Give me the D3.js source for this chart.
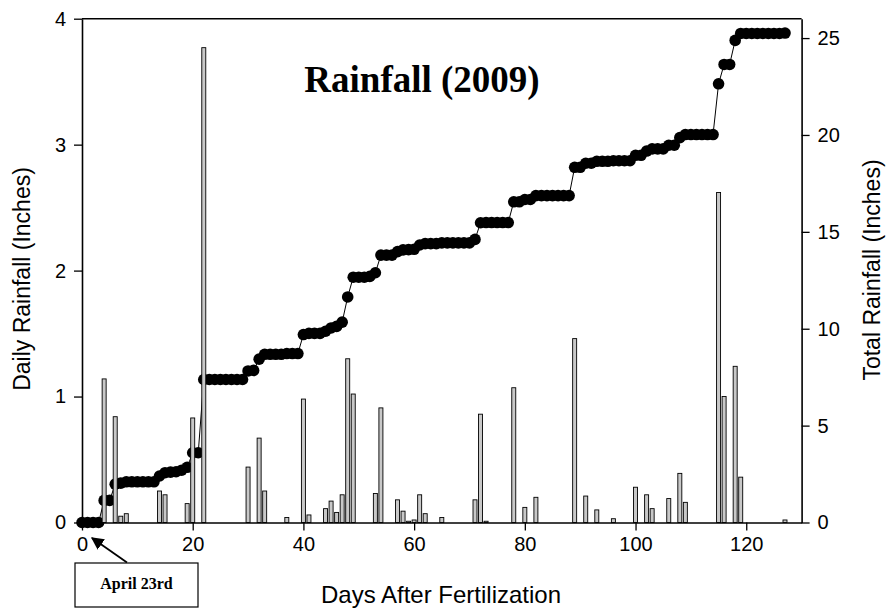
<!DOCTYPE html>
<html><head><meta charset="utf-8">
<script src="https://cdn.jsdelivr.net/npm/d3@7"></script>
<style>body{margin:0;background:#fff}svg{display:block}</style>
</head><body>
<script>
// Daily rainfall bars (day, inches)
const barDays   = [4,6,7,8,14,15,19,20,22,30,32,33,37,40,41,44,45,46,47,48,49,53,54,57,58,59,60,61,62,65,71,72,73,78,80,82,89,91,93,96,100,102,103,106,108,109,115,116,118,119,127];
const barValues = [1.14,0.84,0.05,0.07,0.25,0.22,0.15,0.83,3.77,0.44,0.67,0.25,0.04,0.98,0.06,0.11,0.17,0.08,0.22,1.30,1.02,0.23,0.91,0.18,0.09,0.01,0.02,0.22,0.07,0.04,0.18,0.86,0.01,1.07,0.12,0.20,1.46,0.21,0.10,0.03,0.28,0.22,0.11,0.19,0.39,0.16,2.62,1.00,1.24,0.36,0.02];
// Cumulative rainfall, one value per day 0..127 (inches)
const totalValues = [
 0,0,0,0,1.14,1.14,1.98,2.03,2.10,2.10,
 2.10,2.10,2.10,2.10,2.40,2.57,2.60,2.62,2.70,2.85,
 3.60,3.60,7.38,7.38,7.38,7.38,7.38,7.38,7.38,7.38,
 7.82,7.85,8.43,8.68,8.68,8.68,8.68,8.72,8.72,8.72,
 9.70,9.76,9.76,9.76,9.87,10.04,10.12,10.34,11.64,12.66,
 12.66,12.66,12.70,12.89,13.80,13.80,13.80,13.98,14.07,14.08,
 14.10,14.32,14.39,14.39,14.39,14.43,14.43,14.43,14.43,14.43,
 14.43,14.61,15.47,15.48,15.48,15.48,15.48,15.48,16.55,16.55,
 16.67,16.67,16.87,16.87,16.87,16.87,16.87,16.87,16.87,18.33,
 18.33,18.54,18.54,18.64,18.64,18.64,18.67,18.67,18.67,18.67,
 18.95,18.95,19.17,19.28,19.28,19.28,19.47,19.47,19.86,20.02,
 20.02,20.02,20.02,20.02,20.02,22.64,23.64,23.64,24.88,25.24,
 25.24,25.24,25.24,25.24,25.24,25.24,25.24,25.26];
const xTicks = [0,20,40,60,80,100,120];
const yLeftTicks = [0,1,2,3,4];
const yRightTicks = [0,5,10,15,20,25];

const W = 888, H = 609;
const svg = d3.select("body").append("svg").attr("width", W).attr("height", H);
const x = d3.scaleLinear().domain([0,130]).range([82, 801.6]);
const yL = d3.scaleLinear().domain([0,4]).range([522.5, 18.7]);
const yR = d3.scaleLinear().domain([0,26]).range([522.5, 18.7]);
const sans = "Arial, 'Liberation Sans', sans-serif";
const serif = "'Times New Roman', 'Liberation Serif', serif";

// cumulative line + dots
const total = totalValues.map((v,i)=>({d:i, v}));
svg.append("path").datum(total)
  .attr("fill","none").attr("stroke","#000").attr("stroke-width",1)
  .attr("d", d3.line().x(d=>x(d.d)).y(d=>yR(d.v)));
svg.append("g").selectAll("circle").data(total).join("circle")
  .attr("cx", d=>x(d.d)).attr("cy", d=>yR(d.v)).attr("r", 5.8).attr("fill","#000");

// bars
const bars = barDays.map((d,i)=>({d, v:barValues[i]}));
svg.append("g").selectAll("rect").data(bars).join("rect")
  .attr("x", d=>x(d.d)-2).attr("width", 4)
  .attr("y", d=>yL(d.v)).attr("height", d=>yL(0)-yL(d.v))
  .attr("fill","#c8c8c8").attr("stroke","#000").attr("stroke-width",0.9);

// axes
function styleAxis(g){
  g.select(".domain").attr("stroke","#000").attr("stroke-width",1.6);
  g.selectAll(".tick line").attr("stroke","#000").attr("stroke-width",1.3);
  g.selectAll("text").attr("font-family",sans).attr("font-size",20).attr("fill","#000");
}
svg.append("g").attr("transform","translate(0,522.5)")
  .call(d3.axisBottom(x).tickValues(xTicks).tickFormat(d3.format("d")).tickSize(8).tickSizeOuter(0).tickPadding(6))
  .call(styleAxis);
svg.append("g").attr("transform","translate(82,0)")
  .call(d3.axisLeft(yL).tickValues(yLeftTicks).tickFormat(d3.format("d")).tickSize(8).tickSizeOuter(0).tickPadding(8))
  .call(styleAxis);
svg.append("g").attr("transform","translate(801.6,0)")
  .call(d3.axisRight(yR).tickValues(yRightTicks).tickFormat(d3.format("d")).tickSize(8).tickSizeOuter(0).tickPadding(8))
  .call(styleAxis);
svg.append("line").attr("x1",82).attr("x2",801.6).attr("y1",18.7).attr("y2",18.7)
  .attr("stroke","#000").attr("stroke-width",1.6);

// titles
svg.append("text").attr("x",422).attr("y",92).attr("text-anchor","middle")
  .attr("font-family",serif).attr("font-weight","bold").attr("font-size",37)
  .text("Rainfall (2009)");
svg.append("text").attr("x",441).attr("y",603).attr("text-anchor","middle")
  .attr("font-family",sans).attr("font-size",24).text("Days After Fertilization");
svg.append("text").attr("transform","translate(30,279) rotate(-90)").attr("text-anchor","middle")
  .attr("font-family",sans).attr("font-size",23).text("Daily Rainfall (Inches)");
svg.append("text").attr("transform","translate(880,270) rotate(-90)").attr("text-anchor","middle")
  .attr("font-family",sans).attr("font-size",23).text("Total Rainfall (Inches)");

// annotation
svg.append("defs").append("marker").attr("id","ah").attr("viewBox","0 0 10 10")
  .attr("refX",9).attr("refY",5).attr("markerWidth",7).attr("markerHeight",7)
  .attr("orient","auto").append("path").attr("d","M0,0L10,5L0,10z").attr("fill","#000");
svg.append("line").attr("x1",127).attr("y1",562.5).attr("x2",92).attr("y2",538)
  .attr("stroke","#000").attr("stroke-width",1.8).attr("marker-end","url(#ah)");
svg.append("rect").attr("x",75).attr("y",563).attr("width",123).attr("height",44)
  .attr("fill","#fff").attr("stroke","#000").attr("stroke-width",1.2);
svg.append("text").attr("x",136.5).attr("y",589).attr("text-anchor","middle")
  .attr("font-family",serif).attr("font-weight","bold").attr("font-size",16)
  .text("April 23rd");
</script>
</body></html>
